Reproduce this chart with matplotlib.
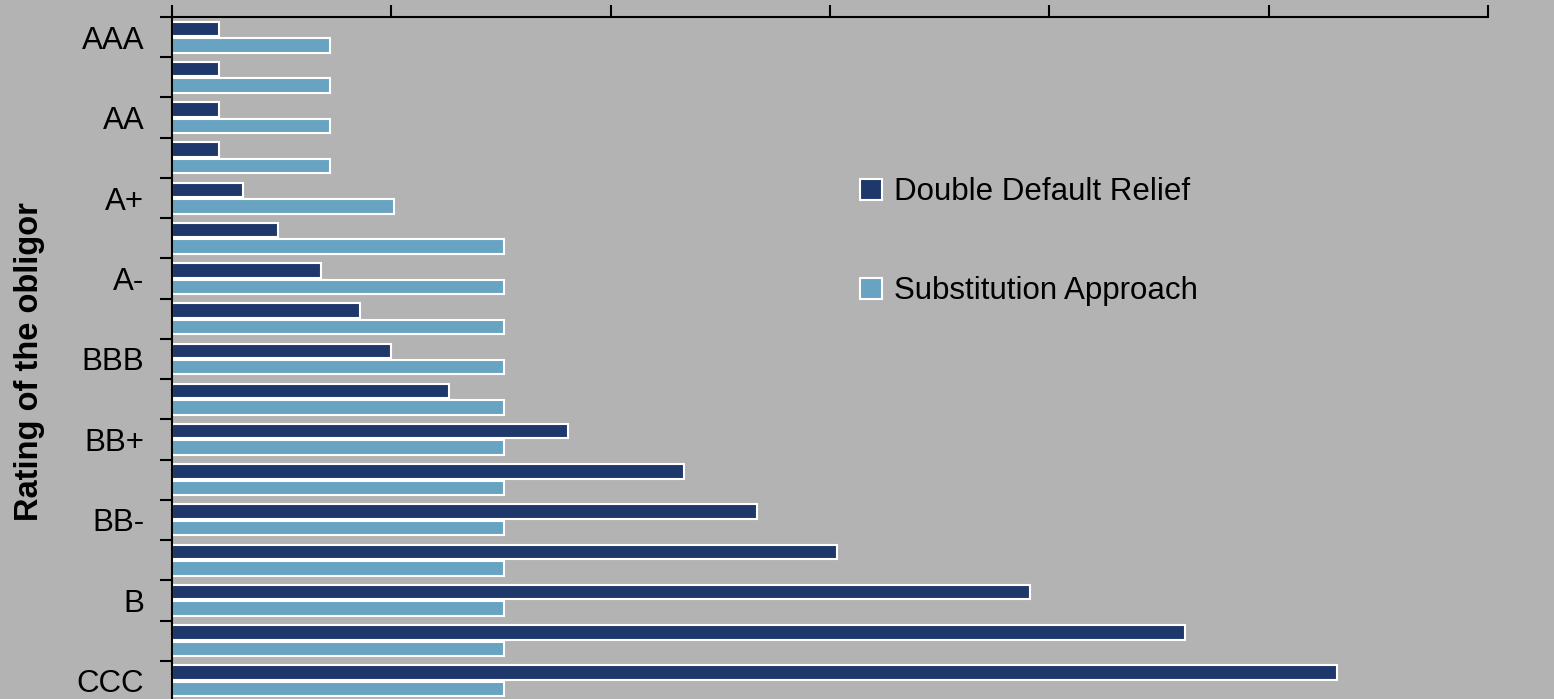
import matplotlib
matplotlib.use("Agg")
import matplotlib.pyplot as plt
import numpy as np

plt.rcParams['font.family'] = ['Liberation Sans', 'DejaVu Sans']

ratings = ["AAA", "AA+", "AA", "AA-", "A+", "A", "A-", "BBB+", "BBB", "BBB-",
           "BB+", "BB", "BB-", "B+", "B", "B-", "CCC"]
double_default = [0.43, 0.43, 0.43, 0.43, 0.65, 0.97, 1.36, 1.71, 2.00, 2.53,
                  3.61, 4.67, 5.33, 6.06, 7.82, 9.24, 10.62]
substitution = [1.44, 1.44, 1.44, 1.44, 2.02, 3.03, 3.03, 3.03, 3.03, 3.03,
                3.03, 3.03, 3.03, 3.03, 3.03, 3.03, 3.03]
x_ticks = [0, 2, 4, 6, 8, 10, 12]
shown_labels = {"AAA", "AA", "A+", "A-", "BBB", "BB+", "BB-", "B", "CCC"}

bg = "#b3b3b3"
dark = "#1f386c"
light = "#68a4c2"

W, H = 1554, 699
fig = plt.figure(figsize=(W / 100, H / 100), dpi=100, facecolor=bg)
ax = fig.add_axes([172 / W, (H - 701) / H, 1316 / W, 684 / H], facecolor=bg)

y = np.arange(len(ratings))
bh = 0.36
ax.barh(y - 0.205, double_default, height=bh, color=dark, edgecolor="white",
        linewidth=1.5, label="Double Default Relief")
ax.barh(y + 0.205, substitution, height=bh, color=light, edgecolor="white",
        linewidth=1.5, label="Substitution Approach")

ax.set_ylim(len(ratings) - 0.5, -0.5)
ax.set_xlim(x_ticks[0], x_ticks[-1])

# x axis on top, no labels
ax.xaxis.tick_top()
ax.set_xticks(x_ticks)
ax.set_xticklabels([])
ax.tick_params(axis="x", direction="out", length=8.5, width=1.5, color="black")

# y: major ticks at boundaries, minor ticks (no lines) for labels
ax.set_yticks(np.arange(len(ratings) + 1) - 0.5)
ax.set_yticklabels([])
ax.set_yticks(y, minor=True)
ax.set_yticklabels([r if r in shown_labels else "" for r in ratings], minor=True,
                   fontsize=22.5)
ax.tick_params(axis="y", which="major", direction="out", length=8.5, width=1.5,
               color="black")
ax.tick_params(axis="y", which="minor", length=0, pad=20)

for s in ["right", "bottom"]:
    ax.spines[s].set_visible(False)
for s in ["top", "left"]:
    ax.spines[s].set_linewidth(1.5)
    ax.spines[s].set_color("black")

fig.text(30 / W, (H - 362) / H, "Rating of the obligor", rotation=90,
         fontsize=23.5, fontweight="bold", ha="center", va="center")

leg = ax.legend(loc="upper left", bbox_to_anchor=(848 / W, (H - 165) / H),
                bbox_transform=fig.transFigure, frameon=False, fontsize=22.5,
                handlelength=0.68, handleheight=0.68, handletextpad=0.4,
                labelspacing=2.2, borderaxespad=0)

fig.savefig("out.png", dpi=100, facecolor=bg)
